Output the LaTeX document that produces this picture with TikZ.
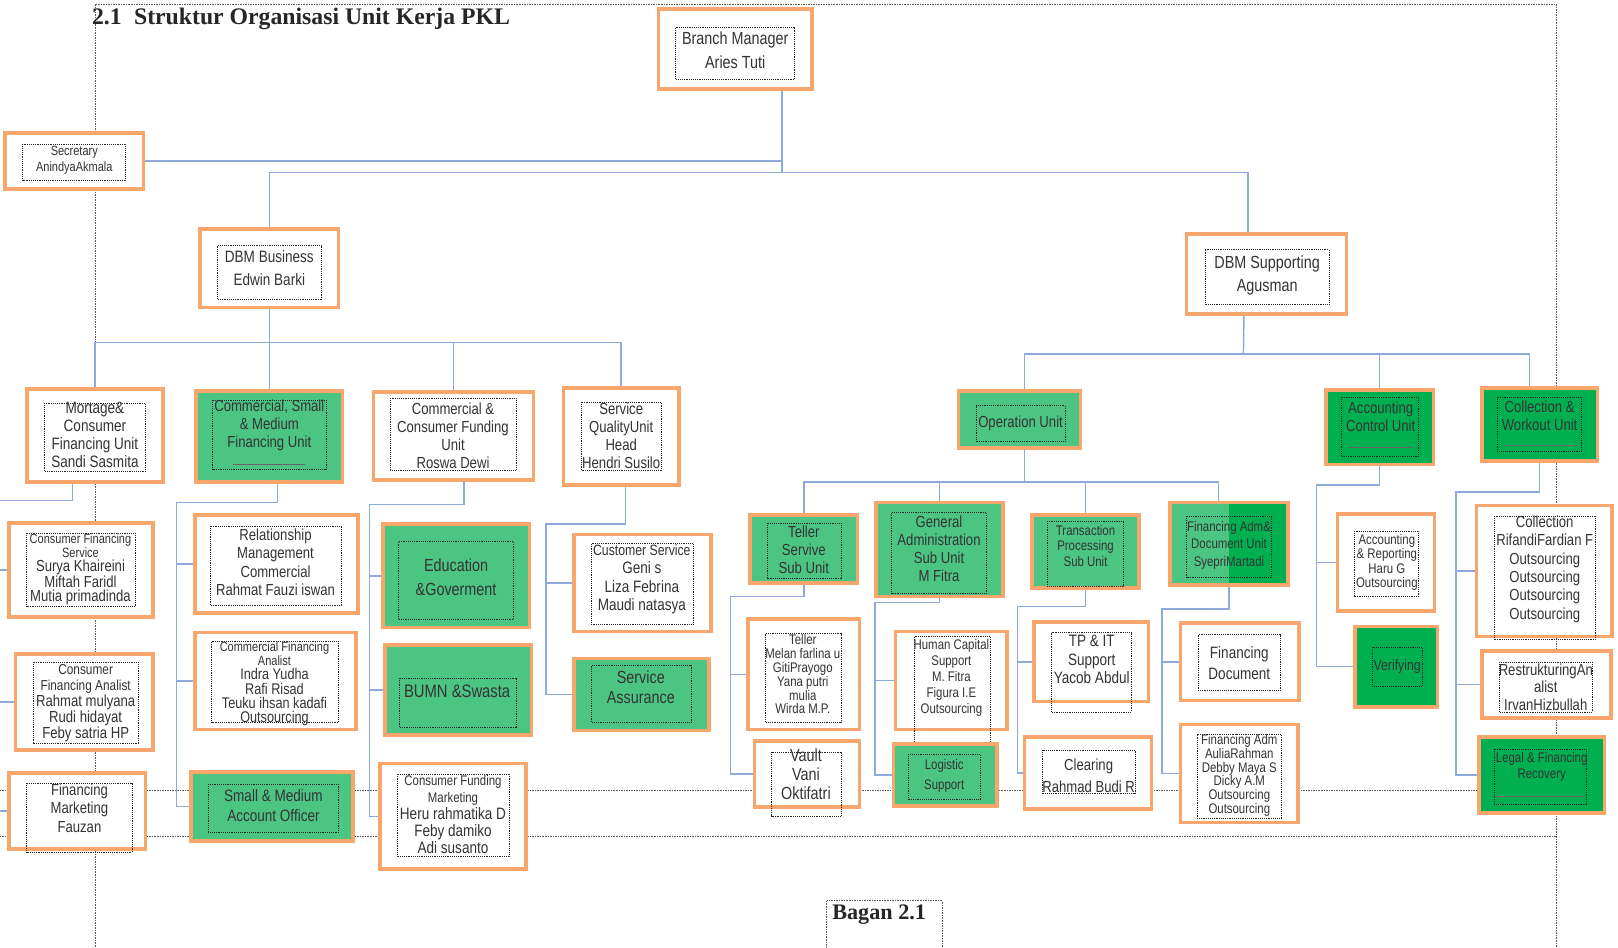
\documentclass[tikz,border=0pt]{standalone}
\usepackage{fontspec}
\setmainfont[FakeStretch=0.82]{Liberation Sans}
\newfontfamily\titlefont{Liberation Serif}
\usetikzlibrary{fit,calc}
\definecolor{orng}{HTML}{F9A66C}
\definecolor{gL}{HTML}{4CC582}
\definecolor{gD}{HTML}{00B050}
\definecolor{conn}{HTML}{8EAAD8}
\newcommand\sz[2]{\fontsize{#1}{#2}\selectfont}
% name, corner1, corner2, style, inner1, inner2, text position, font {size}{skip}, text
\newcommand\OB[9]{%
  \node[ob,#4,fit={#2 #3}] (#1) {};
  \draw[inr] #5 rectangle #6;
  \node[txt,font={\sz#8}] at #7 {#9};
}
\begin{document}
\begin{tikzpicture}[x=1pt,y=-1pt,
 ob/.style={draw=orng,line width=3.5pt,fill=white,inner sep=0pt,rectangle},
 inr/.style={draw=black!85,line width=0.8pt,dash pattern=on 0.9pt off 0.9pt},
 txt/.style={align=center,inner sep=0pt,text=black!80},
 cn/.style={draw=conn,line width=1.4pt},
 pg/.style={draw=black!65,line width=0.8pt,dash pattern=on 0.8pt off 0.8pt},
 lg/.style={fill=gL},
 dg/.style={fill=gD},
 ul/.style={draw=black!60,line width=0.7pt}]
\useasboundingbox (0,0) rectangle (1568,918);
\fill[white] (0,0) rectangle (1568,918);

% page frame and guide lines
\draw[pg] (92,918) -- (92,4) -- (1508,4) -- (1508,918);
\draw[pg] (0,766) -- (1508,766);
\draw[pg] (0,811) -- (1508,811);

% title
\node[anchor=west,inner sep=0pt,text=black!85,font={\titlefont\bfseries\sz{23}{26}}] (title) at (89,18) {2.1\hspace{12pt}Struktur Organisasi Unit Kerja PKL};

% ---------- top ----------
\OB{bm}{(638,9)}{(787,86)}{}{(655,27)}{(770,77)}{(712.5,48.5)}{{17}{23}}{Branch Manager\\Aries Tuti}
\OB{sec}{(5,129)}{(139,183)}{}{(22,140)}{(122,175)}{(72,155)}{{13}{15.5}}{Secretary\\AnindyaAkmala}
\OB{dbmb}{(194,222)}{(328,298)}{}{(211,238)}{(311,290)}{(261,260)}{{16}{22}}{DBM Business\\Edwin Barki}
\OB{dbms}{(1150,227)}{(1305,304)}{}{(1168,242)}{(1288,295)}{(1228,267)}{{17}{23}}{DBM Supporting\\Agusman}

% ---------- business units ----------
\OB{mort}{(26,377)}{(158,467)}{}{(43,391)}{(141,457)}{(92,421.5)}{{16}{17.5}}{Mortage\&\\Consumer\\Financing Unit\\Sandi Sasmita}
\OB{csm}{(190,379)}{(332,467)}{lg}{(206,388)}{(316,455)}{(261,412.5)}{{15.5}{17.5}}{Commercial, Small\\\& Medium\\Financing Unit}
\draw[ul] (226,450) -- (296,450);
\OB{ccf}{(362,380)}{(517,465)}{}{(378,386)}{(500,456)}{(439,422)}{{15.5}{17.5}}{Commercial \&\\Consumer Funding\\Unit\\Roswa Dewi}
\OB{sq}{(546,376)}{(658,470)}{}{(563,390)}{(641,456)}{(602,422)}{{15.5}{17.5}}{Service\\QualityUnit\\Head\\Hendri Susilo}

\OB{cfs}{(9,507)}{(148,598)}{}{(26,517)}{(131,588)}{(78,552)}{{15.5}{13.6}}{{\sz{13}{13.6}Consumer Financing}\\{\sz{13}{13.6}Service}\\Surya Khaireini\\Miftah Faridl\\Mutia primadinda}
\OB{cfa}{(15,634)}{(148,727)}{}{(32,642)}{(134,720)}{(83,681)}{{15.5}{15.5}}{{\sz{14}{15.5}Consumer}\\{\sz{14}{15.5}Financing Analist}\\Rahmat mulyana\\Rudi hidayat\\Feby satria HP}
\OB{fm}{(9,749)}{(141,823)}{}{(26,759)}{(128,826)}{(77,783)}{{15.5}{18}}{Financing\\Marketing\\Fauzan}

\OB{rmc}{(189,499)}{(347,594)}{}{(204,510)}{(331,587)}{(267,545)}{{15.5}{18}}{Relationship\\Management\\Commercial\\Rahmat Fauzi iswan}
\OB{cfan}{(189,613)}{(345,707)}{}{(205,622)}{(328,700)}{(266,662.5)}{{15}{13.8}}{{\sz{13}{13.8}Commercial Financing}\\{\sz{13}{13.8}Analist}\\Indra Yudha\\Rafi Risad\\Teuku ihsan kadafi\\Outsourcing}
\OB{smao}{(185,748)}{(342,815)}{lg}{(202,760)}{(328,807)}{(265,780.5)}{{16}{19.5}}{Small \& Medium\\Account Officer}

\OB{edu}{(371,508)}{(513,608)}{lg}{(386,525)}{(498,600)}{(442,559.5)}{{17}{23}}{Education\\\&Goverment}
\OB{bumn}{(373,625)}{(515,712)}{lg}{(387,657)}{(500,705)}{(443,670)}{{17.5}{20}}{BUMN \&Swasta}
\OB{cfm}{(368,740)}{(510,842)}{}{(385,750)}{(494,830)}{(439,789)}{{16}{16.5}}{{\sz{13.5}{16.5}Consumer Funding}\\{\sz{13.5}{16.5}Marketing}\\Heru rahmatika D\\Feby damiko\\Adi susanto}

\OB{cs}{(556,518)}{(689,612)}{}{(573,527)}{(672,605)}{(622,561.5)}{{16}{17.7}}{{\sz{14.5}{17.7}Customer Service}\\Geni s\\Liza Febrina\\Maudi natasya}
\OB{sa}{(556,638)}{(687,708)}{lg}{(573,645)}{(670,700)}{(621,666)}{{17}{20}}{Service\\Assurance}

% ---------- supporting units ----------
\OB{op}{(929,379)}{(1047,434)}{lg}{(946,393)}{(1032,428)}{(989,410)}{{15.5}{18}}{Operation Unit}
\OB{acu}{(1285,378)}{(1389,450)}{dg}{(1300,385)}{(1375,442)}{(1338,404)}{{15.5}{18}}{Accounting\\Control Unit}
\draw[ul] (1306,434) -- (1369,434);
\OB{cwu}{(1436,376)}{(1548,447)}{dg}{(1451,385)}{(1533,437)}{(1492,402.5)}{{15.5}{17.5}}{Collection \&\\Workout Unit}
\draw[ul] (1457,432) -- (1528,432);

\OB{tss}{(727,499)}{(831,565)}{lg}{(744,507)}{(815,561)}{(779,532.5)}{{15.5}{17.5}}{Teller\\Servive\\Sub Unit}
\OB{ga}{(849,487)}{(972,578)}{lg}{(864,497)}{(956,575)}{(910,532)}{{15.5}{17.5}}{General\\Administration\\Sub Unit\\M Fitra}
\OB{tp}{(1000,499)}{(1104,570)}{lg}{(1015,505)}{(1089,568)}{(1052,529)}{{13.5}{15}}{Transaction\\Processing\\Sub Unit}
\node[ob,lg,fit={(1134,487) (1248,567)}] (fad) {};
\fill[gD] (1191,487) rectangle (1248,567);
\draw[orng,line width=3.5pt] (1134,487) rectangle (1248,567);
\draw[inr] (1150,500) rectangle (1232,560);
\node[txt,font={\sz{13.5}{17}}] at (1191,528.5) {Financing Adm\&\\Document Unit\\SyepriMartadi};

\OB{tel}{(725,600)}{(833,707)}{}{(742,614)}{(815,700)}{(778,653.5)}{{13.5}{13.4}}{Teller\\Melan farlina u\\GitiPrayogo\\Yana putri\\mulia\\Wirda M.P.}
\OB{vault}{(731,718)}{(833,782)}{}{(748,729)}{(815,791)}{(781,750)}{{17}{18.5}}{Vault\\Vani\\Oktifatri}
\OB{hcs}{(868,612)}{(976,707)}{}{(886,617)}{(960,720)}{(922,657)}{{13.5}{15.5}}{Human Capital\\Support\\M. Fitra\\Figura I.E\\Outsourcing}
\OB{log}{(866,721)}{(966,781)}{lg}{(880,731)}{(950,775)}{(915,752)}{{13.5}{20}}{Logistic\\Support}
\OB{tpit}{(1002,603)}{(1113,680)}{}{(1019,613)}{(1096,690)}{(1058,639)}{{16}{18}}{TP \& IT\\Support\\Yacob Abdul}
\OB{clr}{(993,714)}{(1116,784)}{}{(1010,727)}{(1100,769)}{(1055,751.5)}{{15.5}{21}}{Clearing\\Rahmad Budi R}
\OB{fdoc}{(1144,604)}{(1259,679)}{}{(1161,615)}{(1241,669)}{(1201,642.5)}{{16}{21}}{Financing\\Document}
\OB{fadm}{(1144,702)}{(1258,797)}{}{(1160,712)}{(1242,793)}{(1201,751.5)}{{13.5}{13.4}}{Financing Adm\\AuliaRahman\\Debby Maya S\\Dicky A.M\\Outsourcing\\Outsourcing}

\OB{ar}{(1296,498)}{(1390,592)}{}{(1313,515)}{(1375,578)}{(1344,545)}{{13.5}{14}}{Accounting\\\& Reporting\\Haru G\\Outsourcing}
\OB{ver}{(1313,607)}{(1393,685)}{dg}{(1330,627)}{(1378,665)}{(1354,646)}{{14.5}{16}}{Verifying}
\OB{col}{(1431,490)}{(1562,617)}{}{(1448,500)}{(1546,620)}{(1497,551.5)}{{15.5}{17.8}}{Collection\\RifandiFardian F\\Outsourcing\\Outsourcing\\Outsourcing\\Outsourcing}
\OB{res}{(1436,631)}{(1561,696)}{}{(1453,642)}{(1543,690)}{(1498,666)}{{15.5}{17}}{RestrukturingAn\\alist\\IrvanHizbullah}
\OB{legal}{(1433,714)}{(1555,788)}{dg}{(1448,726)}{(1537,780)}{(1494,743)}{{13.5}{16}}{Legal \& Financing\\Recovery}
\draw[ul] (1450,772) -- (1535,772);

% ---------- connectors ----------
\coordinate (j1) at (758,167);
\coordinate (j0) at (758,153);
\draw[cn] (bm.south -| j1) -- (j1);
\draw[cn] (sec.east) -- (sec.east -| j0);
\draw[cn] (dbmb.north) |- (j1) -| ($(dbms.north)+(-18,0)$);

\coordinate (j2) at (261,332);
\draw[cn] (dbmb.south) -- (j2);
\draw[cn] (mort.north) |- (j2) -| (sq.north);
\draw[cn] (csm.north) -- (csm.north |- j2);
\draw[cn] (ccf.north) -- (ccf.north |- j2);

\coordinate (mL) at (-3,485);
\draw[cn] ($(mort.south)+(-22,0)$) |- (mL) |- (fm.west);
\draw[cn] (mL |- cfs.west) -- (cfs.west);
\draw[cn] (mL |- cfa.west) -- (cfa.west);

\coordinate (cL) at (171,487);
\draw[cn] ($(csm.south)+(8,0)$) |- (cL) |- (smao.west);
\draw[cn] (cL |- rmc.west) -- (rmc.west);
\draw[cn] (cL |- cfan.west) -- (cfan.west);

\coordinate (fL) at (358,489);
\draw[cn] ($(ccf.south)+(10,0)$) |- (fL) |- (cfm.west);
\draw[cn] (fL |- edu.west) -- (edu.west);
\draw[cn] (fL |- bumn.west) -- (bumn.west);

\coordinate (sL) at (529,508);
\draw[cn] ($(sq.south)+(4,0)$) |- (sL) |- (sa.west);
\draw[cn] (sL |- cs.west) -- (cs.west);

\coordinate (j3) at (1205,343);
\draw[cn] ($(dbms.south)+(-22,0)$) -- (j3);
\draw[cn] ($(op.north)+(5,0)$) |- (j3) -| ($(cwu.north)+(-10,0)$);
\draw[cn] (acu.north) -- (acu.north |- j3);

\coordinate (j4) at (993,467);
\draw[cn] ($(op.south)+(5,0)$) -- (j4);
\draw[cn] (tss.north) |- (j4) -| ($(fad.north)+(-10,0)$);
\draw[cn] (ga.north) -- (ga.north |- j4);
\draw[cn] (tp.north) -- (tp.north |- j4);

\coordinate (tL) at (708,578);
\draw[cn] (tss.south) |- (tL) |- (vault.west);
\draw[cn] (tL |- tel.west) -- (tel.west);

\coordinate (gL0) at (848,584);
\draw[cn] (ga.south) |- (gL0) |- (log.west);
\draw[cn] (gL0 |- hcs.west) -- (hcs.west);

\coordinate (pL) at (986,588);
\draw[cn] (tp.south) |- (pL) |- (clr.west);
\draw[cn] (pL |- tpit.west) -- (tpit.west);

\coordinate (dL) at (1126,590);
\draw[cn] (fad.south) |- (dL) |- (fadm.west);
\draw[cn] (dL |- fdoc.west) -- (fdoc.west);

\coordinate (aL) at (1276,470);
\draw[cn] (acu.south) |- (aL) |- (ver.west);
\draw[cn] (aL |- ar.west) -- (ar.west);

\coordinate (wL) at (1411,477);
\draw[cn] (cwu.south) |- (wL) |- (legal.west);
\draw[cn] (wL |- col.west) -- (col.west);
\draw[cn] (wL |- res.west) -- (res.west);

% caption
\draw[pg] (801,925) -- (801,873) -- (913,873) -- (913,925);
\node[inner sep=0pt,text=black!85,font={\titlefont\bfseries\sz{21.5}{24}}] (bagan) at (852,886) {Bagan 2.1};
\end{tikzpicture}
\end{document}
